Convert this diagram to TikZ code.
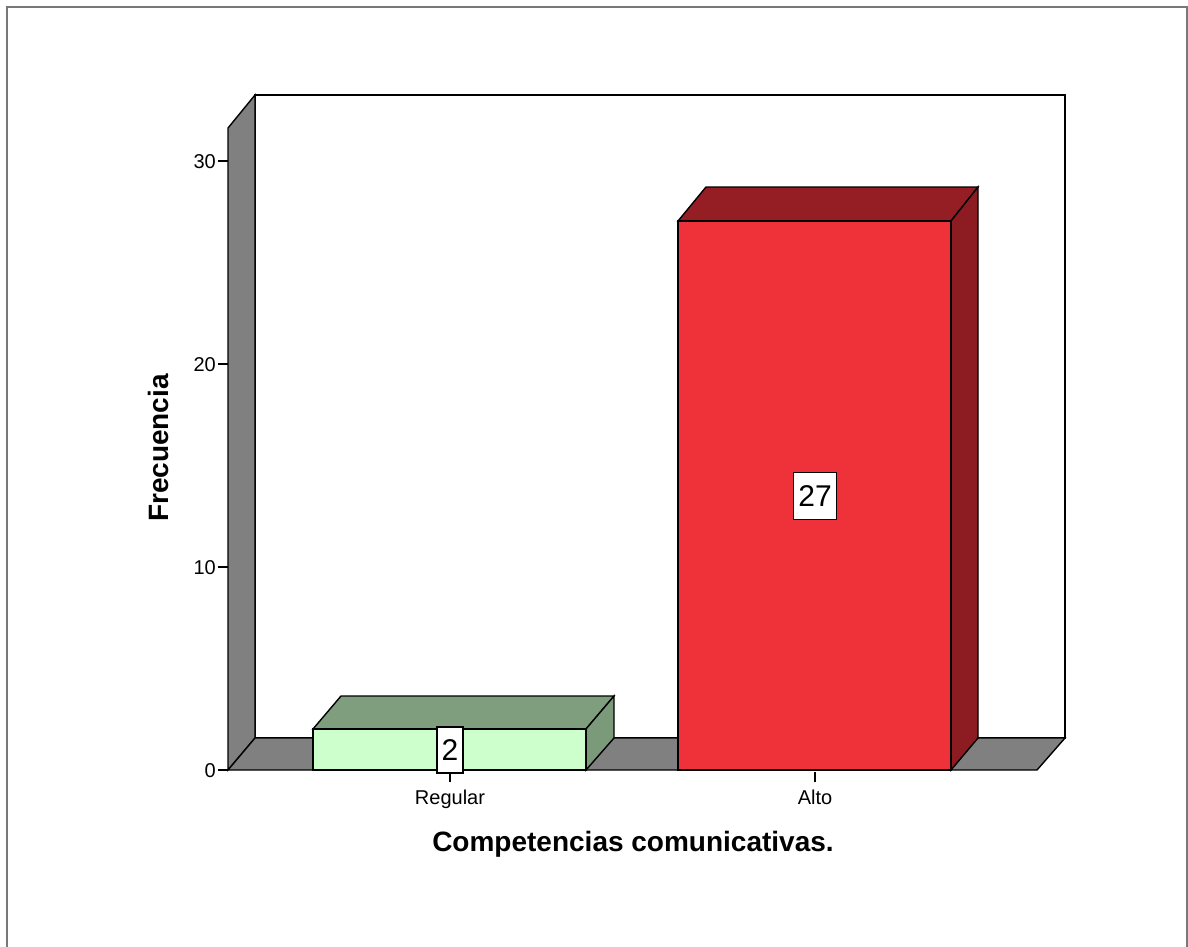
\documentclass[tikz,border=0pt]{standalone}
\usepackage{fontspec}
\setmainfont{Liberation Sans}
\definecolor{wallgray}{RGB}{128,128,128}
\definecolor{framegray}{RGB}{120,120,120}
\definecolor{greenfront}{RGB}{204,255,204}
\definecolor{greentop}{RGB}{126,158,126}
\definecolor{greenside}{RGB}{122,154,122}
\definecolor{redfront}{RGB}{239,50,57}
\definecolor{redtop}{RGB}{148,30,36}
\definecolor{redside}{RGB}{140,28,33}
\tikzset{
  face/.style={draw=black, line width=1.4pt, line join=miter},
  ticklab/.style={font=\fontsize{20}{22}\selectfont, inner sep=0pt},
  vallab/.style={draw=black, fill=white, line width=1.4pt, inner sep=0pt, font=\fontsize{30}{32}\selectfont},
  axtitle/.style={font=\fontsize{28}{30}\selectfont\bfseries, inner sep=0pt},
  tickmark/.style={draw=black, line width=1.2pt}
}
\begin{document}
\begin{tikzpicture}[x=1pt,y=-1pt]
\useasboundingbox (0,0) rectangle (1188,947);
% outer frame
\draw[framegray, line width=2.4pt] (7,947) -- (7,7) -- (1187,7) -- (1187,947);
% back wall
\path[face, fill=white] (255,95) rectangle (1065,738);
% left wall
\path[face, fill=wallgray] (228,770) -- (228,128) -- (255,95) -- (255,738) -- cycle;
% floor
\path[face, fill=wallgray] (228,770) -- (255,738) -- (1065,738) -- (1037,770) -- cycle;
% y ticks and labels
\foreach \v/\yy in {0/770,10/567,20/364,30/161}{
  \draw[tickmark] (218,\yy) -- (228,\yy);
  \node[ticklab, anchor=base east] (t\v) at (216,\yy+7.3) {\v};
}
% Regular bar
\path[face, fill=greentop] (313,729) -- (341,696) -- (614,696) -- (586,729) -- cycle;
\path[face, fill=greenside] (586,729) -- (614,696) -- (614,738) -- (586,770) -- cycle;
\path[face, fill=greenfront] (313,729) rectangle (586,770);
% Alto bar
\path[face, fill=redtop] (678,221) -- (706,187) -- (978,187) -- (951,221) -- cycle;
\path[face, fill=redside] (951,221) -- (978,187) -- (978,738) -- (951,770) -- cycle;
\path[face, fill=redfront] (678,221) rectangle (951,770);
% category ticks
\draw[tickmark] (450,772) -- (450,782);
\draw[tickmark] (815,772) -- (815,782);
% value labels
\node[vallab, minimum width=26pt, minimum height=46pt] (v2) at (450,750) {2};
\node[vallab, minimum width=43pt, minimum height=47pt] (v27) at (815,496) {27};
% category labels
\node[ticklab, anchor=base] (cReg) at (450,804) {Regular};
\node[ticklab, anchor=base] (cAlto) at (815,804) {Alto};
% axis titles
\node[axtitle, anchor=base] (xt) at (633,851) {Competencias comunicativas.};
\node[axtitle, anchor=base, rotate=90] (yt) at (168,448) {Frecuencia};
\end{tikzpicture}
\end{document}
